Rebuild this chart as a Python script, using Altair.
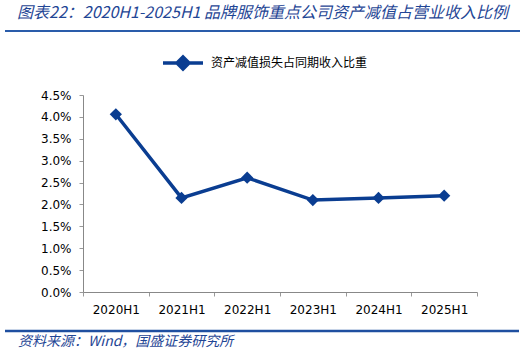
import altair as alt
import pandas as pd

periods = ["2020H1", "2021H1", "2022H1", "2023H1", "2024H1", "2025H1"]
ratio = [0.0406, 0.0215, 0.0261, 0.0210, 0.0215, 0.0220]
series_name = "资产减值损失占同期收入比重"
y_ticks = [0, 0.005, 0.01, 0.015, 0.02, 0.025, 0.03, 0.035, 0.04, 0.045]
title_text = "图表22：2020H1-2025H1 品牌服饰重点公司资产减值占营业收入比例"
source_text = "资料来源：Wind，国盛证券研究所"

df = pd.DataFrame({"period": periods, "ratio": ratio, "series": [series_name] * len(periods)})

BLUE = "#0A3D91"
W, H = 394, 197

x = alt.X("period:N", sort=periods, title=None,
          scale=alt.Scale(paddingInner=0, paddingOuter=0),
          axis=alt.Axis(labelAngle=0, labelFont="DejaVu Sans", labelFontSize=12, labelColor="#000",
                        labelPadding=8, tickColor="#999", tickSize=4, domainColor="#888",
                        bandPosition=0, tickBand="extent", grid=False))
y = alt.Y("ratio:Q", title=None,
          scale=alt.Scale(domain=[0, 0.045], nice=False),
          axis=alt.Axis(values=y_ticks, format=".1%", labelFont="DejaVu Sans", labelFontSize=12,
                        labelColor="#000", labelPadding=8, tickColor="#999", tickSize=4,
                        domainColor="#888", grid=False))

legend_sym = "M-1,0H1M-0.3,0L0,-0.3L0.3,0L0,0.3Z"
color = alt.Color("series:N", scale=alt.Scale(range=[BLUE]),
                  legend=alt.Legend(title=None, orient="none", legendX=78, legendY=-54,
                                    symbolType=legend_sym, symbolSize=1600, symbolStrokeWidth=3.5,
                                    symbolFillColor=BLUE, labelFont="Noto Sans CJK SC",
                                    labelFontSize=12, labelColor="#000", labelOffset=6))

line = alt.Chart(df).mark_line(strokeWidth=3.5).encode(x=x, y=y, color=color)
pts = alt.Chart(df).mark_point(shape="diamond", filled=True, size=150, opacity=1).encode(
    x=x, y=y, color=alt.Color("series:N", scale=alt.Scale(range=[BLUE]), legend=None))

tdf = pd.DataFrame({"t": [title_text]})
title = alt.Chart(tdf).mark_text(align="left", baseline="middle", font="Noto Sans CJK SC",
                                 fontSize=16, fontStyle="italic", color="#1F4695").encode(
    text="t:N", x=alt.value(17 - 83), y=alt.value(13 - 95))
sdf = pd.DataFrame({"t": [source_text]})
source = alt.Chart(sdf).mark_text(align="left", baseline="middle", font="Noto Sans CJK SC",
                                  fontSize=14, fontStyle="italic", color="#1F4695").encode(
    text="t:N", x=alt.value(18 - 83), y=alt.value(342 - 95))

rule_top = alt.Chart(tdf).mark_rule(color="#2A5CAA", strokeWidth=2).encode(
    x=alt.value(5 - 83), x2=alt.value(520 - 83), y=alt.value(31 - 95))
rule_bot = alt.Chart(tdf).mark_rule(color="#1F4FA0", strokeWidth=2.5).encode(
    x=alt.value(5 - 83), x2=alt.value(519 - 83), y=alt.value(331 - 95))

chart = alt.layer(line, pts, title, source, rule_top, rule_bot).properties(
    width=W, height=H,
    padding={"left": 83, "top": 95, "right": 526 - 83 - W, "bottom": 354 - 95 - H},
    autosize=alt.AutoSizeParams(type="none"),
    background="white",
).configure_view(stroke=None)

chart.save("out.html", embed_options={"renderer": "svg", "actions": False})
